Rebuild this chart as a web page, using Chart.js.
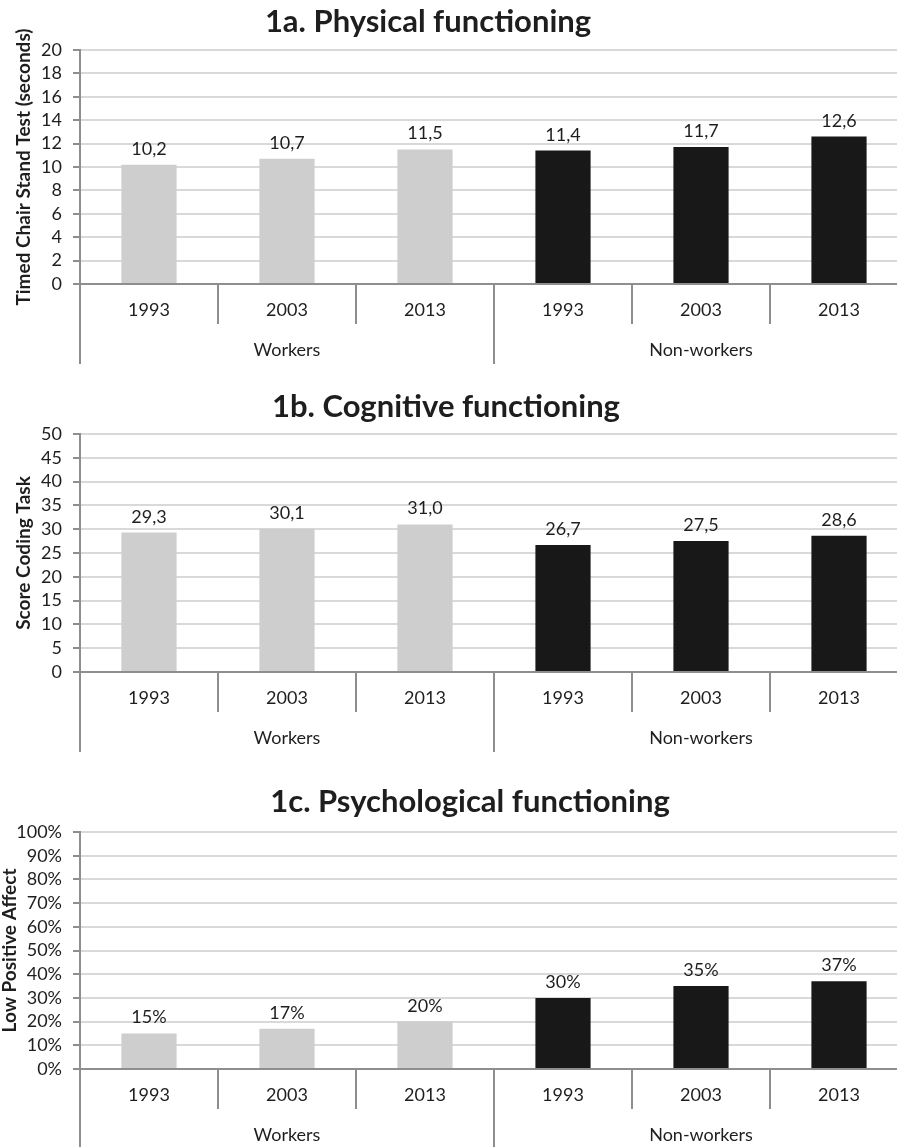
<!DOCTYPE html>
<html>
<head>
<meta charset="utf-8">
<script src="https://cdn.jsdelivr.net/npm/chart.js@4.4.1/dist/chart.umd.min.js"></script>
<style>
  html, body { margin: 0; padding: 0; background: #fff; overflow: hidden; width: 897px; height: 1147px; }
  canvas { position: absolute; left: 0; }
</style>
</head>
<body>
<canvas id="chart1a" width="908" height="364" style="top:0px"></canvas>
<canvas id="chart1b" width="908" height="367" style="top:385px"></canvas>
<canvas id="chart1c" width="908" height="369" style="top:780px"></canvas>
<script>
// categories
const years = ['1993', '2003', '2013', '1993', '2003', '2013'];
const groups = ['Workers', 'Non-workers'];

// series values
const physicalValues = [10.2, 10.7, 11.5, 11.4, 11.7, 12.6];
const cognitiveValues = [29.3, 30.1, 31.0, 26.7, 27.5, 28.6];
const psychologicalValues = [15, 17, 20, 30, 35, 37];  // percent

const FONT = 'Lato, "Liberation Sans", sans-serif';
const TEXT = '#1e1e1e';
const AXIS = '#8e8e8e';
const GRID = '#d9d9d9';
const LIGHT = '#cdcecd';
const DARK = '#181818';

function commaDecimal(v) {
    return v.toFixed(1).replace('.', ',');
}

// labels above the bars
function valueLabels(format) {
    return {
        id: 'valueLabels',
        afterDatasetsDraw(chart) {
            const ctx = chart.ctx;
            const meta = chart.getDatasetMeta(0);
            const values = chart.data.datasets[0].data;
            ctx.save();
            ctx.font = '18px ' + FONT;
            ctx.fillStyle = TEXT;
            ctx.textAlign = 'center';
            ctx.textBaseline = 'alphabetic';
            meta.data.forEach((bar, i) => {
                ctx.fillText(format(values[i]), bar.x, bar.y - 10);
            });
            ctx.restore();
        }
    };
}

// panel title, centred where the original one sits
function panelTitle(text, cx, cy) {
    return {
        id: 'panelTitle',
        afterDraw(chart) {
            const ctx = chart.ctx;
            ctx.save();
            ctx.font = 'bold 31px ' + FONT;
            ctx.fillStyle = TEXT;
            ctx.textAlign = 'center';
            ctx.textBaseline = 'middle';
            ctx.fillText(text, cx, cy);
            ctx.restore();
        }
    };
}

function makeChart(id, opts) {
    const tickFont = { family: FONT, size: 18 };
    const xGrid = { offset: true, drawOnChartArea: false, tickLength: 40, color: AXIS, lineWidth: 2 };

    return new Chart(document.getElementById(id), {
        type: 'bar',
        data: {
            labels: years,
            datasets: [{
                data: opts.values,
                backgroundColor: [LIGHT, LIGHT, LIGHT, DARK, DARK, DARK],
                categoryPercentage: 1,
                barPercentage: 0.4
            }]
        },
        options: {
            responsive: false,
            animation: false,
            layout: { padding: { top: opts.top, left: 0, right: 0, bottom: 0 } },
            plugins: {
                legend: { display: false },
                tooltip: { enabled: false },
                title: { display: false }
            },
            scales: {
                x: {
                    grid: xGrid,
                    border: { color: AXIS, width: 2 },
                    ticks: { font: tickFont, color: TEXT, padding: -25, maxRotation: 0 },
                    afterFit: s => { s.height = 40; }
                },
                xg: {
                    type: 'category',
                    labels: groups,
                    position: 'bottom',
                    offset: true,
                    grid: xGrid,
                    border: { display: false },
                    ticks: { font: tickFont, color: TEXT, padding: -25, maxRotation: 0 },
                    afterFit: s => { s.height = 40; }
                },
                y: {
                    min: 0,
                    max: opts.max,
                    ticks: {
                        stepSize: opts.step, autoSkip: false,
                        font: tickFont, color: TEXT, padding: 11, callback: opts.tick
                    },
                    grid: { color: GRID, lineWidth: 2, tickLength: 7, tickColor: AXIS },
                    border: { color: AXIS, width: 2 },
                    title: {
                        display: true,
                        text: opts.yTitle,
                        color: TEXT,
                        font: { family: FONT, size: 19, weight: 'bold' },
                        padding: { top: opts.yTitlePad, bottom: 0 }
                    },
                    afterFit: s => { s.width = 80; }
                }
            }
        },
        plugins: [valueLabels(opts.format), panelTitle(opts.title, opts.titleX, 22)]
    });
}

makeChart('chart1a', {
    title: '1a. Physical functioning', titleX: 428, top: 50,
    yTitle: 'Timed Chair Stand Test (seconds)', yTitlePad: 12,
    values: physicalValues, max: 20, step: 2,
    tick: v => v, format: commaDecimal
});

makeChart('chart1b', {
    title: '1b. Cognitive functioning', titleX: 446, top: 49,
    yTitle: 'Score Coding Task', yTitlePad: 12,
    values: cognitiveValues, max: 50, step: 5,
    tick: v => v, format: commaDecimal
});

makeChart('chart1c', {
    title: '1c. Psychological functioning', titleX: 470, top: 52,
    yTitle: 'Low Positive Affect', yTitlePad: -2,
    values: psychologicalValues, max: 100, step: 10,
    tick: v => v + '%', format: v => Math.round(v) + '%'
});
</script>
</body>
</html>
